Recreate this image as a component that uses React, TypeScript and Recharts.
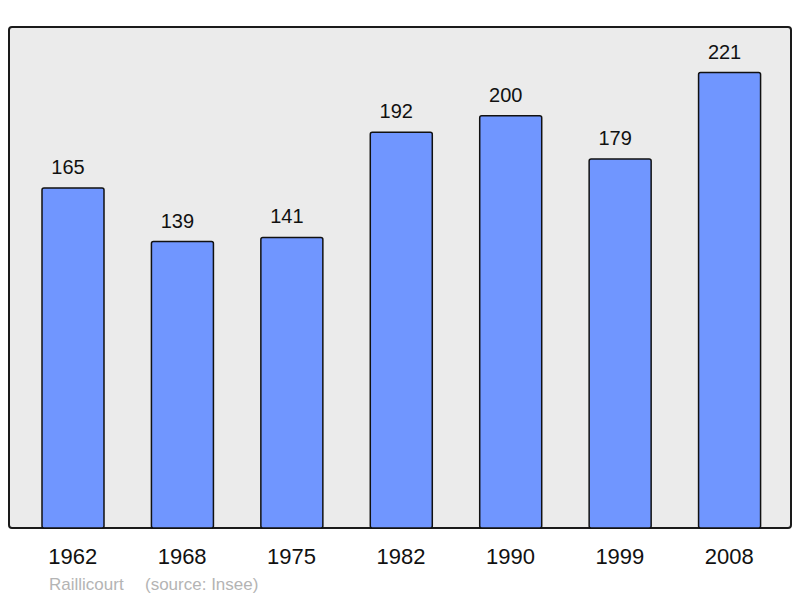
import React from "react";
import { BarChart, Bar, XAxis, YAxis, LabelList } from "recharts";

const years = ["1962", "1968", "1975", "1982", "1990", "1999", "2008"];
const population = [165, 139, 141, 192, 200, 179, 221];

const town = "Raillicourt";
const source = "(source: Insee)";

const data = years.map((year, i) => ({ year, value: population[i] }));

const FONT = "'Liberation Sans', Arial, sans-serif";

export default function App() {
  return (
    <div
      style={{
        position: "absolute",
        left: 0,
        top: 0,
        width: 800,
        height: 598,
        background: "#ffffff",
        fontFamily: FONT,
      }}
    >
      {/* plot frame */}
      <div
        style={{
          position: "absolute",
          left: 8,
          top: 26,
          width: 784,
          height: 503,
          boxSizing: "border-box",
          background: "#ebebeb",
          border: "2px solid #1a1a1a",
          borderRadius: 4,
        }}
      />
      <div style={{ position: "absolute", left: 0, top: 0 }}>
        <BarChart
          width={800}
          height={598}
          data={data}
          margin={{ top: 27, left: 9, right: 10, bottom: 0 }}
        >
          <XAxis
            dataKey="year"
            height={70}
            axisLine={false}
            tickLine={false}
            tickSize={0}
            tickMargin={20}
            padding={{ left: 9, right: 6 }}
            tick={{ fill: "#111", fontSize: 22, fontFamily: FONT }}
          />
          <YAxis hide domain={[0, 243.1]} />
          <Bar
            dataKey="value"
            fill="#7096ff"
            stroke="#111"
            strokeWidth={1.5}
            barSize={62}
            radius={2}
            isAnimationActive={false}
          >
            <LabelList
              dataKey="value"
              position="top"
              offset={14}
              dx={-5}
              style={{ fill: "#111", fontSize: 20, fontFamily: FONT }}
            />
          </Bar>
        </BarChart>
      </div>
      <div
        style={{
          position: "absolute",
          left: 49,
          top: 575,
          fontSize: 17,
          color: "#b4b4b4",
          whiteSpace: "pre",
        }}
      >
        {town}
      </div>
      <div
        style={{
          position: "absolute",
          left: 145,
          top: 575,
          fontSize: 17,
          color: "#b4b4b4",
          whiteSpace: "pre",
        }}
      >
        {source}
      </div>
    </div>
  );
}
